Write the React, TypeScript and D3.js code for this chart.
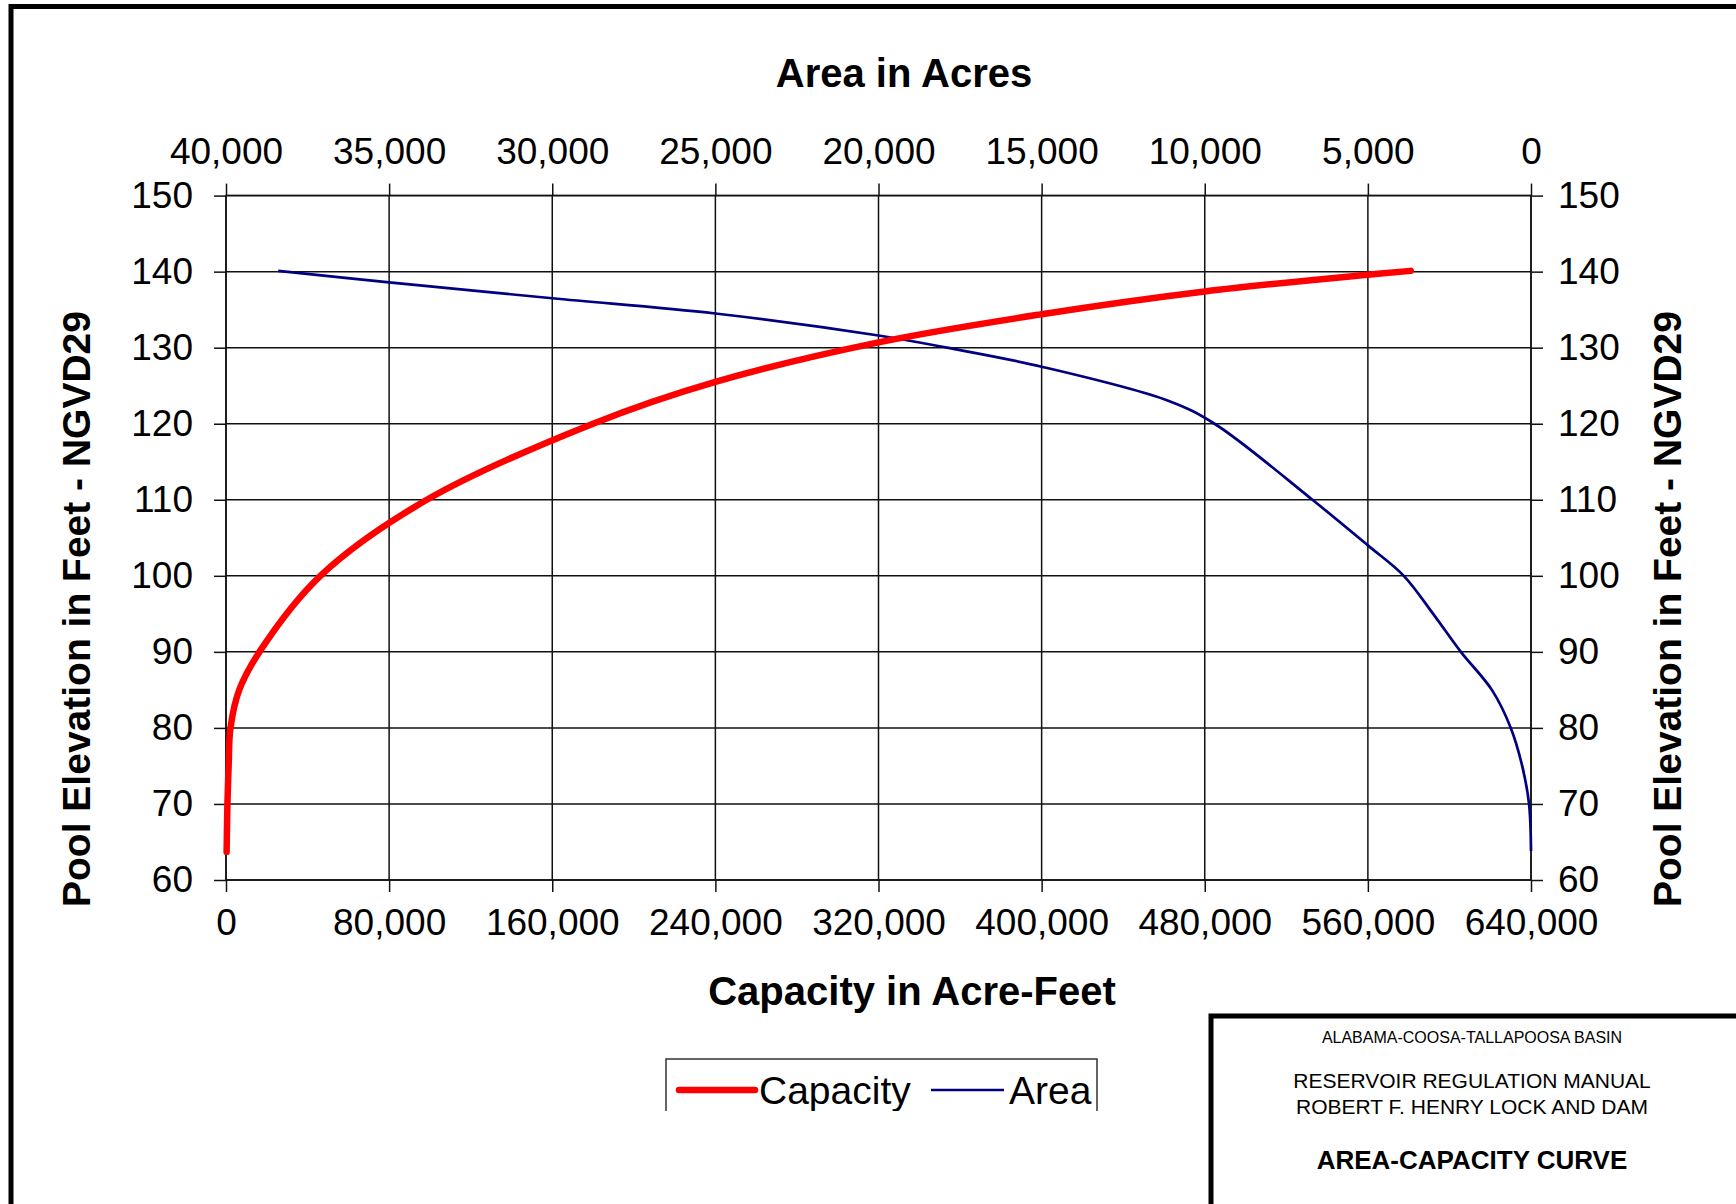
import { useEffect, useRef } from "react";
import * as d3 from "d3";

// capacity curve (elevation ft, acre-feet)
const capacityElev = [63.7, 70, 75, 80, 85, 90, 100, 110, 120, 125.5, 130.7, 134.4, 137.4, 139.6, 140.1];
const capacityAcreFeet = [300, 700, 1300, 2200, 6500, 16400, 46300, 98500, 180000, 240000, 320000, 400000, 480000, 560000, 581000];

// area curve (elevation ft, acres)
const areaElev = [63.8, 70, 75, 80, 85, 90, 95, 100, 104, 110, 120, 123, 127.5, 130, 131.6, 134.5, 136.5, 138.6, 140.1];
const areaAcres = [0, 60, 270, 620, 1200, 2150, 3000, 3900, 5000, 6700, 9700, 11100, 15000, 17900, 20000, 25000, 30000, 35000, 38400];

const elevTicks = [60, 70, 80, 90, 100, 110, 120, 130, 140, 150];
const capacityTicks = [0, 80000, 160000, 240000, 320000, 400000, 480000, 560000, 640000];
const areaTicks = [40000, 35000, 30000, 25000, 20000, 15000, 10000, 5000, 0];

const seriesNames = ["Capacity", "Area"];
const seriesColors = ["#ff0000", "#000080"];

const titleBlock = [
  "ALABAMA-COOSA-TALLAPOOSA BASIN",
  "RESERVOIR REGULATION MANUAL",
  "ROBERT F. HENRY LOCK AND DAM",
  "AREA-CAPACITY CURVE",
];

const W = 1736;
const H = 1204;
const FONT = "'Liberation Sans', Arial, sans-serif";

type Pt = { x: number; y: number };

export default function App() {
  const svgRef = useRef<SVGSVGElement | null>(null);

  useEffect(() => {
    if (!svgRef.current) return;
    const svg = d3.select(svgRef.current);
    svg.selectAll("*").remove();

    const plot = { left: 226, right: 1531, top: 195.6, bottom: 880 };

    const x = d3.scaleLinear().domain([0, 640000]).range([plot.left, plot.right]);
    const xArea = d3.scaleLinear().domain([40000, 0]).range([plot.left, plot.right]);
    const y = d3.scaleLinear().domain([60, 150]).range([plot.bottom, plot.top]);

    svg.append("rect").attr("width", W).attr("height", H).attr("fill", "#fff");

    // outer frame
    svg
      .append("rect")
      .attr("x", 11)
      .attr("y", 6.5)
      .attr("width", W + 20)
      .attr("height", H + 20)
      .attr("fill", "none")
      .attr("stroke", "#000")
      .attr("stroke-width", 5);

    const g = svg.append("g").attr("font-family", FONT);

    // gridlines
    g.append("g")
      .selectAll("line")
      .data(elevTicks)
      .enter()
      .append("line")
      .attr("x1", plot.left)
      .attr("x2", plot.right)
      .attr("y1", (d) => y(d))
      .attr("y2", (d) => y(d))
      .attr("stroke", "#111")
      .attr("stroke-width", 1.5);
    g.append("g")
      .selectAll("line")
      .data(capacityTicks)
      .enter()
      .append("line")
      .attr("x1", (d) => x(d))
      .attr("x2", (d) => x(d))
      .attr("y1", plot.top)
      .attr("y2", plot.bottom)
      .attr("stroke", "#111")
      .attr("stroke-width", 1.5);

    const fmt = d3.format(",");
    const styleAxis = (sel: any) => {
      sel.select(".domain").remove();
      sel.selectAll("line").attr("stroke", "#111").attr("stroke-width", 1.5);
      sel.selectAll("text").attr("font-size", 37).attr("fill", "#000").attr("font-family", FONT);
    };

    g.append("g")
      .attr("transform", `translate(${plot.left},0)`)
      .call(d3.axisLeft(y).tickValues(elevTicks).tickSize(12).tickPadding(21))
      .call(styleAxis);
    g.append("g")
      .attr("transform", `translate(${plot.right},0)`)
      .call(d3.axisRight(y).tickValues(elevTicks).tickSize(12).tickPadding(15))
      .call(styleAxis);
    g.append("g")
      .attr("transform", `translate(0,${plot.bottom})`)
      .call(d3.axisBottom(x).tickValues(capacityTicks).tickSize(12).tickPadding(17).tickFormat((d: any) => fmt(d)))
      .call(styleAxis);
    g.append("g")
      .attr("transform", `translate(0,${plot.top})`)
      .call(d3.axisTop(xArea).tickValues(areaTicks).tickSize(12).tickPadding(19.6).tickFormat((d: any) => fmt(d)))
      .call(styleAxis);

    // plot border
    g.append("rect")
      .attr("x", plot.left)
      .attr("y", plot.top)
      .attr("width", plot.right - plot.left)
      .attr("height", plot.bottom - plot.top)
      .attr("fill", "none")
      .attr("stroke", "#111")
      .attr("stroke-width", 1.5);

    // curves (smoothed like the spreadsheet's "smoothed line")
    const line = d3
      .line<Pt>()
      .x((d) => d.x)
      .y((d) => d.y)
      .curve(d3.curveCatmullRom.alpha(0.5));

    const areaPts: Pt[] = areaElev.map((e, i) => ({ x: xArea(areaAcres[i]), y: y(e) }));
    const capPts: Pt[] = capacityElev.map((e, i) => ({ x: x(capacityAcreFeet[i]), y: y(e) }));

    g.append("path")
      .attr("d", line(areaPts))
      .attr("fill", "none")
      .attr("stroke", seriesColors[1])
      .attr("stroke-width", 2.7)
      .attr("stroke-linejoin", "round");
    g.append("path")
      .attr("d", line(capPts))
      .attr("fill", "none")
      .attr("stroke", seriesColors[0])
      .attr("stroke-width", 6.5)
      .attr("stroke-linecap", "round")
      .attr("stroke-linejoin", "round");

    // axis titles
    g.append("text")
      .attr("x", 904)
      .attr("y", 87)
      .attr("text-anchor", "middle")
      .attr("font-size", 40)
      .attr("font-weight", "bold")
      .text("Area in Acres");
    g.append("text")
      .attr("x", 912)
      .attr("y", 1005)
      .attr("text-anchor", "middle")
      .attr("font-size", 40)
      .attr("font-weight", "bold")
      .text("Capacity in Acre-Feet");
    [90, 1681].forEach((bx) => {
      g.append("text")
        .attr("transform", `translate(${bx},609) rotate(-90)`)
        .attr("text-anchor", "middle")
        .attr("font-size", 39)
        .attr("font-weight", "bold")
        .text("Pool Elevation in Feet - NGVD29");
    });

    // legend (bottom edge is clipped in the original)
    const defs = svg.append("defs");
    defs
      .append("clipPath")
      .attr("id", "legend-clip")
      .append("rect")
      .attr("x", 0)
      .attr("y", 0)
      .attr("width", W)
      .attr("height", 1111);
    const lg = g.append("g").attr("clip-path", "url(#legend-clip)");
    lg.append("rect")
      .attr("x", 666)
      .attr("y", 1059)
      .attr("width", 431)
      .attr("height", 120)
      .attr("fill", "#fff")
      .attr("stroke", "#333")
      .attr("stroke-width", 1.5);
    const legendItems = [
      { x1: 679, x2: 755, tx: 759, w: 6.5 },
      { x1: 931, x2: 1004, tx: 1009, w: 2.7 },
    ];
    legendItems.forEach((it, i) => {
      lg.append("line")
        .attr("x1", it.x1)
        .attr("x2", it.x2)
        .attr("y1", 1090)
        .attr("y2", 1090)
        .attr("stroke", seriesColors[i])
        .attr("stroke-width", it.w)
        .attr("stroke-linecap", i === 0 ? "round" : "butt");
      lg.append("text")
        .attr("x", it.tx)
        .attr("y", 1104)
        .attr("font-size", 39)
        .text(seriesNames[i]);
    });

    // title block
    svg
      .append("rect")
      .attr("x", 1211)
      .attr("y", 1016)
      .attr("width", 600)
      .attr("height", 300)
      .attr("fill", "#fff")
      .attr("stroke", "#000")
      .attr("stroke-width", 5);
    const tb = [
      { y: 1043, size: 16, bold: false },
      { y: 1088, size: 21, bold: false },
      { y: 1114, size: 21, bold: false },
      { y: 1169, size: 26, bold: true },
    ];
    tb.forEach((t, i) => {
      svg
        .append("text")
        .attr("x", 1472)
        .attr("y", t.y)
        .attr("text-anchor", "middle")
        .attr("font-family", FONT)
        .attr("font-size", t.size)
        .attr("font-weight", t.bold ? "bold" : "normal")
        .text(titleBlock[i]);
    });
  }, []);

  return (
    <svg
      ref={svgRef}
      width={W}
      height={H}
      style={{ position: "absolute", left: 0, top: 0, display: "block" }}
    />
  );
}
